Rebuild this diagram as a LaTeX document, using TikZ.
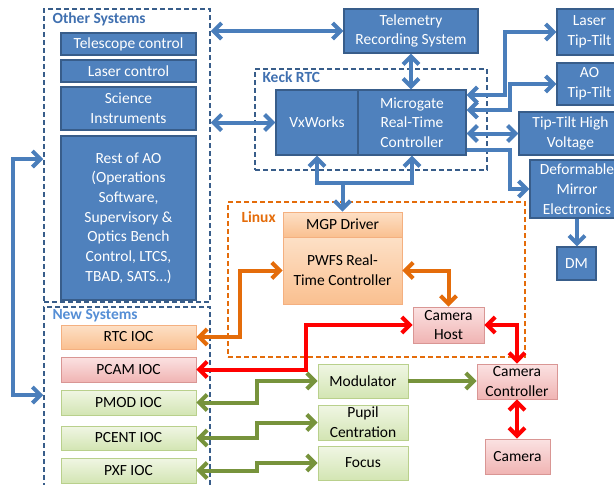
\documentclass[tikz,border=0pt]{standalone}
\usepackage{fontspec}
\setmainfont{Carlito}
\usetikzlibrary{arrows.meta,shadows}

\definecolor{boxblue}{HTML}{4F81BD}
\definecolor{edgeblue}{HTML}{385D8A}
\definecolor{grpblue}{HTML}{385D8A}
\definecolor{arrblue}{HTML}{4A7EBB}
\definecolor{otherlbl}{HTML}{4070B0}
\definecolor{newlbl}{HTML}{558ED5}
\definecolor{linuxorange}{HTML}{E46C0A}
\definecolor{orangetop}{HTML}{FDE0C6}
\definecolor{orangebot}{HTML}{FAC090}
\definecolor{orangeedge}{HTML}{F4B080}
\definecolor{pinktop}{HTML}{FBE2E2}
\definecolor{pinkbot}{HTML}{F0B4B3}
\definecolor{pinkedge}{HTML}{D99694}
\definecolor{greentop}{HTML}{F0F6E4}
\definecolor{greenbot}{HTML}{D3E5B3}
\definecolor{greenedge}{HTML}{B9D08C}
\definecolor{arrgreen}{HTML}{77933C}

\tikzset{
	blk/.style={draw=edgeblue, line width=1.2pt, fill=boxblue, text=white, align=center, inner sep=1pt},
	litebox/.style={line width=0.8pt, align=center, inner sep=1pt,
		drop shadow={shadow xshift=1.2pt, shadow yshift=-1.2pt, opacity=0.25}},
	orangebox/.style={litebox, draw=orangeedge, top color=orangetop, bottom color=orangebot},
	pinkbox/.style={litebox, draw=pinkedge, top color=pinktop, bottom color=pinkbot},
	greenbox/.style={litebox, draw=greenedge, top color=greentop, bottom color=greenbot},
	grp/.style={draw=grpblue, line width=1.5pt, dash pattern=on 5pt off 3pt, inner sep=0pt},
	grplabel/.style={anchor=west, font=\fontsize{15.5}{19}\selectfont\bfseries},
	link/.style={line width=4pt}
}

\begin{document}
\begin{tikzpicture}[x=1pt, y=-1pt, >={Straight Barb[length=8pt,width=16pt]},
		every node/.append style={font=\fontsize{15.5}{19.7}\selectfont}]
			%%%%% START %%%%%
			\useasboundingbox (0,0) rectangle (614,485);
			
			% groups
			\node[grp, minimum width=166pt, minimum height=293pt] (other) at (127,155.5) {};
			\node[grp, minimum width=166pt, minimum height=188pt] (new) at (127,401) {};
			\node[grp, minimum width=232pt, minimum height=101pt] (keck) at (371,119.5) {};
			\node[grp, draw=linuxorange, minimum width=297pt, minimum height=155pt] (linux) at (376.5,279.5) {};
			
			\node[grplabel, text=otherlbl] (otherlbl) at (49,19) {Other Systems};
			\node[grplabel, text=newlbl] (newlbl) at (49,316) {New Systems};
			\node[grplabel, text=otherlbl] (kecklbl) at (259,77) {Keck RTC};
			\node[grplabel, text=linuxorange] (linuxlbl) at (238,217) {Linux};
			
			% other systems
			\node[blk, minimum width=135pt, minimum height=22pt] (telescope) at (128.5,44) {Telescope control};
			\node[blk, minimum width=135pt, minimum height=22pt] (laser) at (128.5,71) {Laser control};
			\node[blk, minimum width=135pt, minimum height=43pt] (science) at (128.5,108.5) {Science\\Instruments};
			\node[blk, minimum width=135pt, minimum height=164pt] (restao) at (128.5,218) {Rest of AO\\(Operations\\Software,\\Supervisory \&\\Optics Bench\\Control, LTCS,\\TBAD, SATS…)};
			
			% new systems
			\node[orangebox, minimum width=135pt, minimum height=24pt] (rtcioc) at (128.5,337) {RTC IOC};
			\node[pinkbox, minimum width=135pt, minimum height=25pt] (pcamioc) at (128.5,369.5) {PCAM IOC};
			\node[greenbox, minimum width=135pt, minimum height=25pt] (pmodioc) at (128.5,402.5) {PMOD IOC};
			\node[greenbox, minimum width=135pt, minimum height=24pt] (pcentioc) at (128.5,438) {PCENT IOC};
			\node[greenbox, minimum width=135pt, minimum height=25pt] (pxfioc) at (128.5,470.5) {PXF IOC};
			
			% keck rtc and right side
			\node[blk, minimum width=134pt, minimum height=44pt] (tele) at (411,31) {Telemetry\\Recording System};
			\node[blk, minimum width=82pt, minimum height=65pt] (vx) at (317,122.5) {VxWorks};
			\node[blk, minimum width=108pt, minimum height=65pt] (mg) at (412,122.5) {Microgate\\Real-Time\\Controller};
			\node[blk, minimum width=65pt, minimum height=46pt] (ltt) at (589.5,32) {Laser\\Tip-Tilt};
			\node[blk, minimum width=65pt, minimum height=42pt] (aott) at (589.5,84) {AO\\Tip-Tilt};
			\node[blk, minimum width=103pt, minimum height=43pt] (tthv) at (570.5,133.5) {Tip-Tilt High\\Voltage};
			\node[blk, minimum width=94pt, minimum height=58pt] (dme) at (577,189) {Deformable\\Mirror\\Electronics};
			\node[blk, minimum width=39pt, minimum height=33pt] (dm) at (576.5,263.5) {DM};
			
			% linux
			\node[orangebox, minimum width=119pt, minimum height=25pt] (mgp) at (342.5,224.5) {MGP Driver};
			\node[orangebox, minimum width=119pt, minimum height=67pt] (pwfs) at (342.5,270.5) {PWFS Real-\\Time Controller};
			\node[pinkbox, minimum width=71pt, minimum height=36pt] (camhost) at (448.5,325) {Camera\\Host};
			
			% bench
			\node[pinkbox, minimum width=80pt, minimum height=35pt] (camctrl) at (517,381.5) {Camera\\Controller};
			\node[pinkbox, minimum width=65pt, minimum height=35pt] (camera) at (517.5,456.5) {Camera};
			\node[greenbox, minimum width=90pt, minimum height=34pt] (mod) at (363,381) {Modulator};
			\node[greenbox, minimum width=90pt, minimum height=35pt] (pupil) at (363,422.5) {Pupil\\Centration};
			\node[greenbox, minimum width=90pt, minimum height=34pt] (focus) at (363,463) {Focus};
			
			% blue links
			\draw[link, arrblue, <->] (tele.west -| other.east) -- (tele.west);
			\draw[link, arrblue, <->] (vx.west -| other.east) -- (vx.west);
			\draw[link, arrblue, <->] (other.west |- 0,159) -- (13,159) -- (13,395) -- (new.west |- 0,395);
			\draw[link, arrblue, <->] (tele.south) -- (tele.south |- mg.north);
			\draw[link, arrblue, <->] (mg.east |- 0,95) -- (505,95) |- (ltt.west);
			\draw[link, arrblue, <->] (mg.east |- 0,110) -- (510,110) |- (aott.west);
			\draw[link, arrblue, <->] (mg.east |- tthv.west) -- (tthv.west);
			\draw[link, arrblue, ->] (mg.east |- 0,150) -- (510,150) |- (dme.west);
			\draw[link, arrblue, ->] (dme.south) -- (dme.south |- dm.north);
			\draw[link, arrblue, <->] (vx.south) -- (vx.south |- 0,183) -| (mg.south);
			\draw[link, arrblue, ->] (mgp.north |- 0,183) -- (mgp.north);
			
			% orange links
			\draw[link, linuxorange, <->] (rtcioc.east) -- (240,337) |- (pwfs.west);
			\draw[link, linuxorange, <->] (pwfs.east) -| (camhost.north);
			
			% red links
			\draw[link, red, <->] (pcamioc.east) -- (306,369.5) |- (camhost.west);
			\draw[link, red, <->] (camhost.east) -| (camctrl.north);
			\draw[link, red, <->] (camctrl.south) -- (camctrl.south |- camera.north);
			
			% green links
			\draw[link, arrgreen, <->] (pmodioc.east) -- (257,402.5) |- (mod.west);
			\draw[link, arrgreen, <->] (pcentioc.east) -- (257,438) |- (pupil.west);
			\draw[link, arrgreen, <->] (pxfioc.east) -- (257,470.5) |- (focus.west);
			\draw[link, arrgreen, ->] (mod.east) -- (mod.east -| camctrl.west);
			
			%%%%% END %%%%%
		\end{tikzpicture}
\end{document}
